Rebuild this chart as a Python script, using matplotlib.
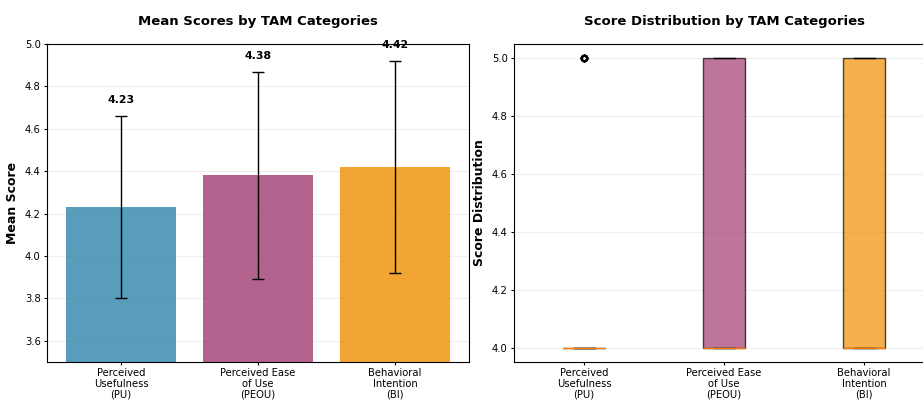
import matplotlib.pyplot as plt
import numpy as np

# TAM categories and summary values
categories = ['Perceived\nUsefulness\n(PU)', 'Perceived Ease\nof Use\n(PEOU)', 'Behavioral\nIntention\n(BI)']
means = [4.23, 4.38, 4.42]
stds = [0.43, 0.49, 0.50]
colors = ['#2E86AB', '#A23B72', '#F18F01']

# Individual Likert responses (26 respondents)
pu_scores = [4] * 20 + [5] * 6
peou_scores = [4] * 16 + [5] * 10
bi_scores = [4] * 15 + [5] * 11

fig = plt.figure(figsize=(9.23, 4.01), dpi=100)

# Left: mean scores with error bars
ax1 = fig.add_axes([47 / 923, 39 / 401, 422 / 923, 318 / 401])
x = np.arange(len(categories))
ax1.bar(x, means, yerr=stds, capsize=4, color=colors, alpha=0.8,
        error_kw={'elinewidth': 1, 'ecolor': 'black', 'capthick': 1})
for i, (m, s) in enumerate(zip(means, stds)):
    ax1.text(i, m + s + 0.05, f'{m:.2f}', ha='center', va='bottom',
             fontweight='bold', fontsize=7.8)
ax1.set_xticks(x)
ax1.set_xticklabels(categories, fontsize=7.2, linespacing=1.05)
ax1.tick_params(axis='both', length=2.5, pad=2)
ax1.tick_params(axis='y', labelsize=7.2)
ax1.set_ylim(3.5, 5.0)
ax1.set_ylabel('Mean Score', fontweight='bold', fontsize=9, labelpad=4)
ax1.set_title('Mean Scores by TAM Categories', fontweight='bold', fontsize=9.5, pad=14)
ax1.grid(axis='y', alpha=0.2)
ax1.set_axisbelow(True)

# Right: score distribution boxplots
ax2 = fig.add_axes([514 / 923, 39 / 401, 420 / 923, 318 / 401])
bp = ax2.boxplot([pu_scores, peou_scores, bi_scores], patch_artist=True, widths=0.3,
                 flierprops={'markersize': 4, 'markeredgewidth': 1.5})
for patch, c in zip(bp['boxes'], colors):
    patch.set_facecolor(c)
    patch.set_alpha(0.7)
ax2.set_xticks([1, 2, 3])
ax2.set_xticklabels(categories, fontsize=7.2, linespacing=1.05)
ax2.tick_params(axis='both', length=2.5, pad=2)
ax2.tick_params(axis='y', labelsize=7.2)
ax2.set_ylabel('Score Distribution', fontweight='bold', fontsize=9, labelpad=4)
ax2.set_title('Score Distribution by TAM Categories', fontweight='bold', fontsize=9.5, pad=14)
ax2.grid(axis='y', alpha=0.2)

fig.savefig('out.png', dpi=100)
